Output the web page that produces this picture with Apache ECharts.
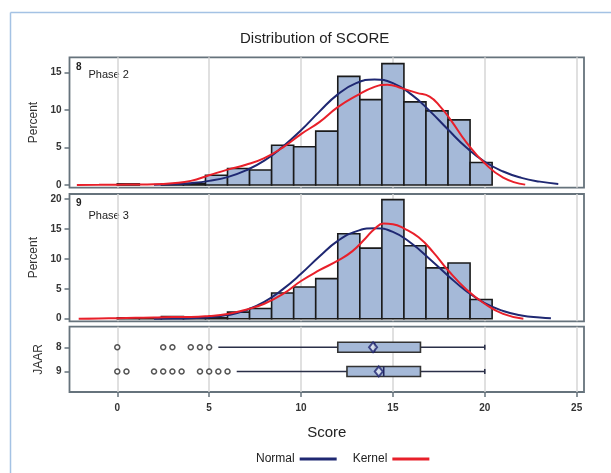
<!DOCTYPE html>
<html><head><meta charset="utf-8">
<script src="https://cdn.jsdelivr.net/npm/echarts@6/dist/echarts.min.js"></script>
<style>html,body{margin:0;padding:0;background:#fff}#c{width:611px;height:473px}</style>
</head><body><div id="c"></div>
<script>
// ---------- data ----------
const binEdges = [0, 1.2, 2.4, 3.6, 4.8, 6.0, 7.2, 8.4, 9.6, 10.8, 12.0, 13.2, 14.4, 15.6, 16.8, 18.0, 19.2, 20.4];
const phase2Pct = [0.15, 0, 0.15, 0.2, 1.3, 2.2, 2.0, 5.3, 5.1, 7.2, 14.5, 11.4, 16.2, 11.1, 9.9, 8.7, 3.0];
const phase3Pct = [0.15, 0.1, 0.35, 0.1, 0.15, 1.1, 1.7, 4.3, 5.3, 6.7, 14.2, 11.8, 19.9, 12.2, 8.5, 9.3, 3.2];

const normal2X = [2, 3, 4, 5, 6, 7, 8, 9, 10, 11, 12, 13, 14, 15, 16, 17, 18, 19, 20, 21, 22, 23, 24];
const normal2Y = [0.03, 0.1, 0.25, 0.55, 1.05, 1.95, 3.25, 5.1, 7.3, 9.8, 12.1, 13.6, 14.1, 13.6, 12.1, 9.9, 7.4, 5.0, 3.1, 1.8, 0.95, 0.45, 0.15];
const kernel2X = [-2.2, -1, 0, 1, 2, 3, 4, 5, 6, 7, 8, 9, 10, 11, 12, 13, 14, 14.7, 15.5, 16.3, 17.0, 17.6, 18.2, 19.0, 20.0, 21.0, 22.2];
const kernel2Y = [0.0, 0.02, 0.05, 0.06, 0.1, 0.25, 0.55, 1.3, 2.05, 2.7, 3.6, 5.0, 6.8, 8.4, 10.4, 11.9, 13.1, 13.4, 12.9, 12.3, 11.8, 10.4, 8.5, 5.7, 2.9, 1.0, 0.05];

const normal3X = [2, 3, 4, 5, 6, 7, 8, 9, 10, 11, 12, 13, 14, 15, 16, 17, 18, 19, 20, 21, 22, 23, 23.6];
const normal3Y = [0.0, 0.03, 0.1, 0.25, 0.6, 1.4, 2.8, 4.9, 7.5, 10.4, 13.0, 14.6, 15.1, 14.5, 12.6, 10.0, 7.2, 4.6, 2.6, 1.3, 0.55, 0.2, 0.08];
const kernel3X = [-2.1, -1, 0, 1, 2, 3, 4, 5, 6, 7, 8, 9, 10, 11, 12, 12.8, 13.5, 14.0, 14.5, 15.0, 15.6, 16.4, 17.2, 18.0, 19.0, 20.0, 21.0, 22.1];
const kernel3Y = [0, 0.03, 0.1, 0.15, 0.2, 0.3, 0.3, 0.45, 0.8, 1.5, 2.5, 4.1, 6.3, 8.1, 9.7, 11.3, 13.4, 15.0, 15.9, 15.8, 15.1, 13.6, 11.1, 8.1, 4.9, 2.5, 0.8, 0.0];

const jaarRows = [8, 9];
const boxLow = [5.5, 6.5];
const boxQ1 = [12.0, 12.5];
const boxMedian = [14.0, 14.5];
const boxQ3 = [16.5, 16.5];
const boxHigh = [20.0, 20.0];
const boxMean = [13.92, 14.23];
const outliers8 = [0, 2.5, 3, 4, 4.5, 5];
const outliers9 = [0, 0.5, 2, 2.5, 3, 3.5, 4.5, 5, 5.5, 6];

const xTicks = [0, 5, 10, 15, 20, 25];
const yTicksPhase2 = [0, 5, 10, 15];
const yTicksPhase3 = [0, 5, 10, 15, 20];
const panelIds = ['8', '9'];
const panelNames = ['Phase 2', 'Phase 3'];
const titleText = 'Distribution of SCORE';

// ---------- styling ----------
const FONT = '"Liberation Sans", Arial, sans-serif';
const NAVY = '#1f2872';
const RED = '#e8202a';
const BAR = '#a5b9d8';
const FRAME = '#66737c';

function bins(pcts) {
  const out = [];
  pcts.forEach((p, i) => { if (p > 0) out.push([binEdges[i], binEdges[i + 1], p]); });
  return out;
}
function pairs(xs, ys) { return xs.map((x, i) => [x, ys[i]]); }

function renderBar(params, api) {
  const p0 = api.coord([api.value(0), 0]);
  const p1 = api.coord([api.value(1), api.value(2)]);
  return {
    type: 'rect',
    shape: { x: p0[0], y: p1[1], width: p1[0] - p0[0], height: p0[1] - p1[1] },
    style: { fill: BAR, stroke: '#1a1a1a', lineWidth: 1.6 }
  };
}
function renderBox(params, api) {
  const row = api.value(0);
  const pLo = api.coord([api.value(1), row]);
  const pQ1 = api.coord([api.value(2), row]);
  const pMed = api.coord([api.value(3), row]);
  const pQ3 = api.coord([api.value(4), row]);
  const pHi = api.coord([api.value(5), row]);
  const y = pLo[1], hb = 5, hc = 2.5;
  const ws = { stroke: '#2a2f48', lineWidth: 1.6 };
  return {
    type: 'group', children: [
      { type: 'line', shape: { x1: pLo[0], y1: y, x2: pQ1[0], y2: y }, style: ws },
      { type: 'line', shape: { x1: pQ3[0], y1: y, x2: pHi[0], y2: y }, style: ws },
      { type: 'line', shape: { x1: pHi[0], y1: y - hc, x2: pHi[0], y2: y + hc }, style: ws },
      { type: 'rect', shape: { x: pQ1[0], y: y - hb, width: pQ3[0] - pQ1[0], height: 2 * hb }, style: { fill: BAR, stroke: '#333', lineWidth: 1.6 } },
      { type: 'line', shape: { x1: pMed[0], y1: y - hb, x2: pMed[0], y2: y + hb }, style: { stroke: '#23285e', lineWidth: 1.6 } }
    ]
  };
}

const gridL = 69.5, gridR = 27;
const grids = [
  { left: gridL, right: gridR, top: 57.3, height: 130.4 },
  { left: gridL, right: gridR, top: 194, height: 127.3 },
  { left: gridL, right: gridR, top: 326.7, height: 65.3 }
].map(g => Object.assign({ show: true, borderColor: FRAME, borderWidth: 1.8, backgroundColor: 'transparent' }, g));

function xAx(i, bottom) {
  return {
    type: 'value', gridIndex: i, min: -2.6, max: 25.4,
    axisLine: { show: false, onZero: false },
    axisTick: { show: bottom, customValues: xTicks, length: 5, lineStyle: { color: FRAME, width: 1.5 } },
    axisLabel: { show: bottom, customValues: xTicks, margin: 11, fontFamily: FONT, fontSize: 10, fontWeight: 'bold', color: '#333' },
    splitLine: { show: true, lineStyle: { color: '#d6d6d6', width: 1.5 } },
    name: bottom ? 'Score' : '', nameLocation: 'middle', nameGap: 33,
    nameTextStyle: { fontFamily: FONT, fontSize: 15, color: '#222' }
  };
}
function yAx(i, min, max, ticks, name, gap, inverse) {
  return {
    type: 'value', gridIndex: i, min: min, max: max, inverse: !!inverse,
    axisLine: { show: false, onZero: false },
    axisTick: { show: true, customValues: ticks, length: 5, lineStyle: { color: FRAME, width: 1.5 } },
    axisLabel: { customValues: ticks, margin: 8, fontFamily: FONT, fontSize: 10, fontWeight: 'bold', color: '#333' },
    splitLine: { show: false },
    name: name, nameLocation: 'middle', nameGap: gap,
    nameTextStyle: { fontFamily: FONT, fontSize: 12, color: '#333' }
  };
}

const lineBase = { type: 'line', showSymbol: false, smooth: 0.5, silent: true };

const outlierData = [];
outliers8.forEach(v => outlierData.push([v, jaarRows[0]]));
outliers9.forEach(v => outlierData.push([v, jaarRows[1]]));

const option = {
  animation: false,
  backgroundColor: '#fff',
  title: {
    text: titleText, left: 240, top: 31, padding: 0,
    textStyle: { fontFamily: FONT, fontSize: 15, fontWeight: 'normal', color: '#222' }
  },
  legend: {
    data: ['Normal', 'Kernel'], left: 256, top: 453, padding: 0,
    align: 'right', itemGap: 16, itemWidth: 37, itemHeight: 3, icon: 'rect',
    selectedMode: false,
    textStyle: { fontFamily: FONT, fontSize: 12, color: '#222' }
  },
  grid: grids,
  xAxis: [xAx(0, false), xAx(1, false), xAx(2, true)],
  yAxis: [
    yAx(0, -0.36, 17.05, yTicksPhase2, 'Percent', 27),
    yAx(1, -0.43, 20.84, yTicksPhase3, 'Percent', 27),
    yAx(2, 7.15, 9.85, jaarRows, 'JAAR', 24, true)
  ],
  graphic: [
    { type: 'line', shape: { x1: 10.5, y1: 12.5, x2: 611, y2: 12.5 }, style: { stroke: '#a4c2e4', lineWidth: 1.5 } },
    { type: 'line', shape: { x1: 10.5, y1: 12.5, x2: 10.5, y2: 473 }, style: { stroke: '#a4c2e4', lineWidth: 1.5 } },
    { type: 'text', x: 76, y: 67, style: { text: panelIds[0], font: 'bold 10px ' + FONT, fill: '#222', textVerticalAlign: 'middle' } },
    { type: 'text', x: 88.5, y: 75, style: { text: panelNames[0], font: '11px ' + FONT, fill: '#222', textVerticalAlign: 'middle' } },
    { type: 'text', x: 76, y: 203.5, style: { text: panelIds[1], font: 'bold 10px ' + FONT, fill: '#222', textVerticalAlign: 'middle' } },
    { type: 'text', x: 88.5, y: 216, style: { text: panelNames[1], font: '11px ' + FONT, fill: '#222', textVerticalAlign: 'middle' } }
  ],
  series: [
    { type: 'custom', xAxisIndex: 0, yAxisIndex: 0, renderItem: renderBar, data: bins(phase2Pct), encode: { x: [0, 1], y: 2 }, silent: true },
    Object.assign({}, lineBase, { name: 'Normal', xAxisIndex: 0, yAxisIndex: 0, data: pairs(normal2X, normal2Y), color: NAVY, itemStyle: { color: NAVY }, lineStyle: { color: NAVY, width: 2 } }),
    Object.assign({}, lineBase, { name: 'Kernel', xAxisIndex: 0, yAxisIndex: 0, data: pairs(kernel2X, kernel2Y), color: RED, itemStyle: { color: RED }, lineStyle: { color: RED, width: 2 } }),
    { type: 'custom', xAxisIndex: 1, yAxisIndex: 1, renderItem: renderBar, data: bins(phase3Pct), encode: { x: [0, 1], y: 2 }, silent: true },
    Object.assign({}, lineBase, { name: 'Normal', xAxisIndex: 1, yAxisIndex: 1, data: pairs(normal3X, normal3Y), color: NAVY, itemStyle: { color: NAVY }, lineStyle: { color: NAVY, width: 2 } }),
    Object.assign({}, lineBase, { name: 'Kernel', xAxisIndex: 1, yAxisIndex: 1, data: pairs(kernel3X, kernel3Y), color: RED, itemStyle: { color: RED }, lineStyle: { color: RED, width: 2 } }),
    {
      type: 'custom', xAxisIndex: 2, yAxisIndex: 2, renderItem: renderBox, silent: true,
      data: jaarRows.map((r, i) => [r, boxLow[i], boxQ1[i], boxMedian[i], boxQ3[i], boxHigh[i]]),
      encode: { x: [1, 2, 3, 4, 5], y: 0 }
    },
    {
      type: 'scatter', xAxisIndex: 2, yAxisIndex: 2, silent: true, symbol: 'circle', symbolSize: 5,
      itemStyle: { color: '#fff', borderColor: '#2a2a2a', borderWidth: 1.5 },
      data: outlierData
    },
    {
      type: 'scatter', xAxisIndex: 2, yAxisIndex: 2, silent: true, symbol: 'diamond', symbolSize: [8, 10],
      itemStyle: { color: '#e4eaf4', borderColor: '#1f2470', borderWidth: 2 },
      data: jaarRows.map((r, i) => [boxMean[i], r])
    }
  ]
};
echarts.init(document.getElementById('c')).setOption(option);
</script></body></html>
